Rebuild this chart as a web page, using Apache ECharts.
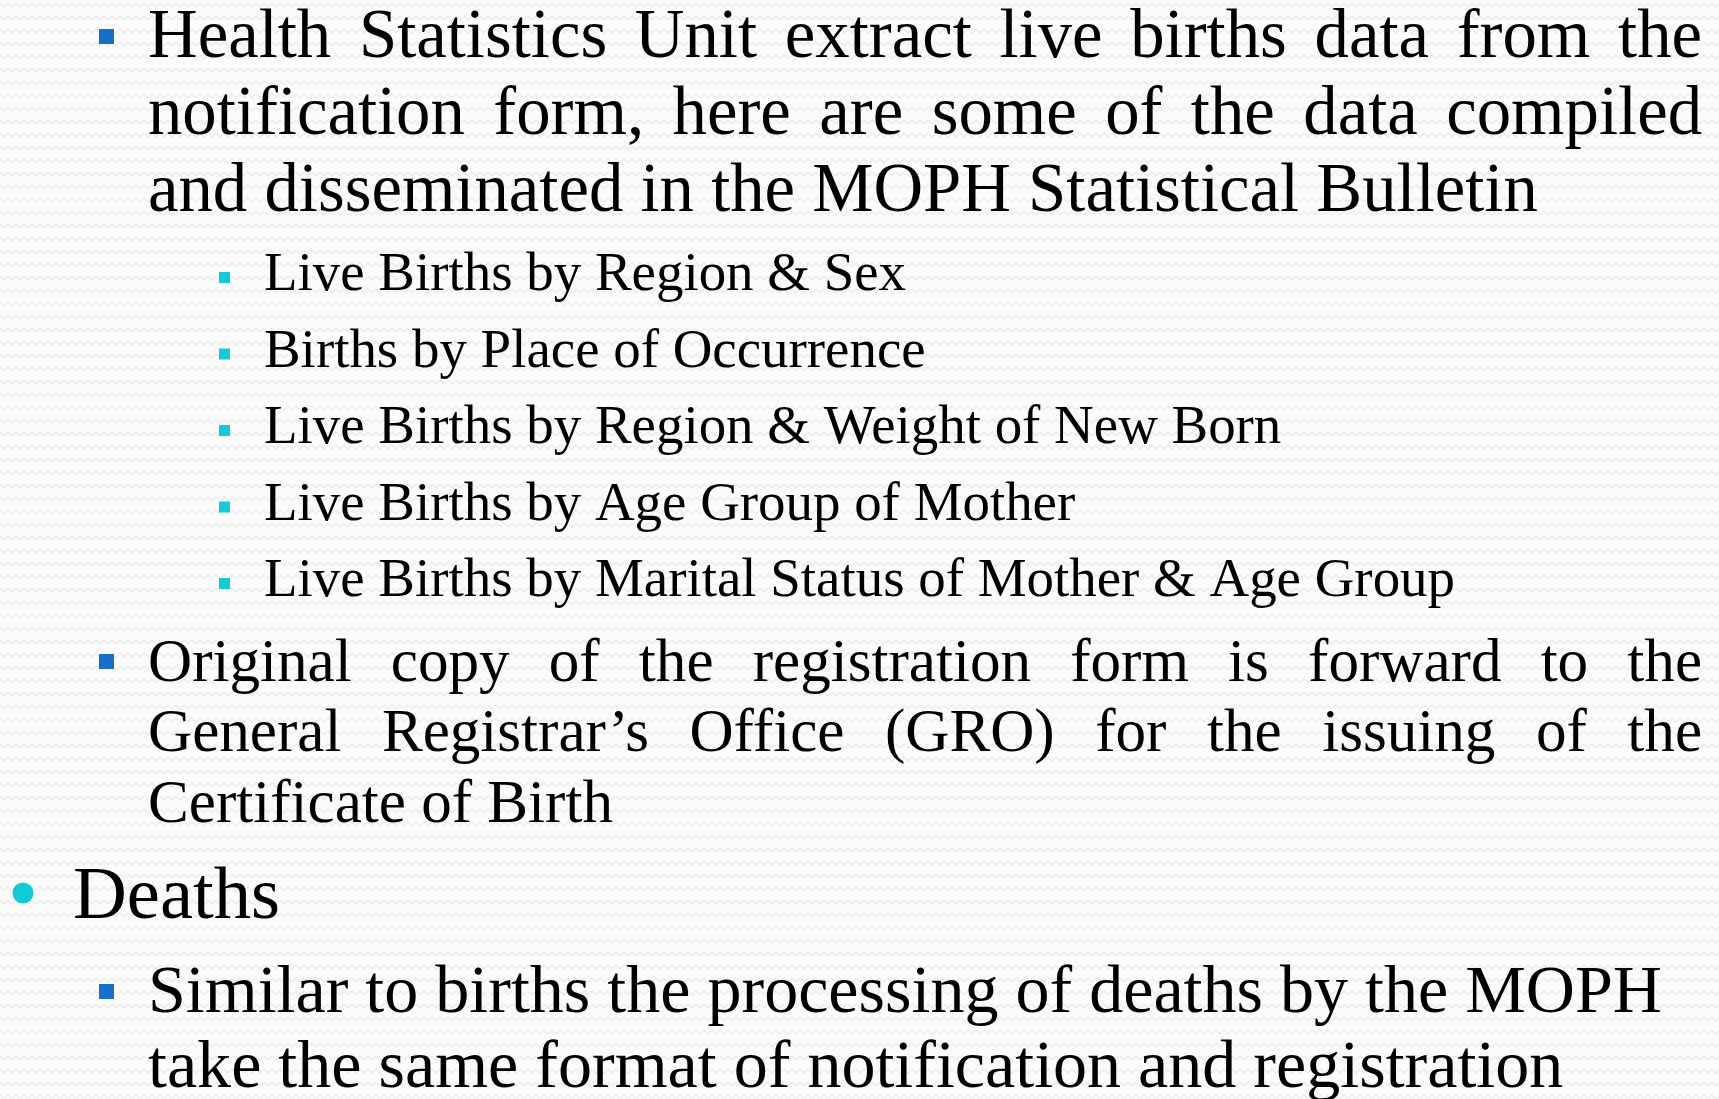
<!DOCTYPE html>
<html><head><meta charset="utf-8">
<script src="https://cdn.jsdelivr.net/npm/echarts@6/dist/echarts.min.js"></script>
<style>html,body{margin:0;padding:0;background:#fff}#c{width:1719px;height:1099px}</style>
</head><body><div id="c"></div>
<script>
// ---- content (text of the slide) ----
const para1Lines = [
  "Health Statistics Unit extract live births data from the",
  "notification form, here are some of the data compiled",
  "and disseminated in the MOPH Statistical Bulletin"
];
const subItems = [
  "Live Births by Region & Sex",
  "Births by Place of Occurrence",
  "Live Births by Region & Weight of New Born",
  "Live Births by Age Group of Mother",
  "Live Births by Marital Status of Mother & Age Group"
];
const para2Lines = [
  "Original copy of the registration form is forward to the",
  "General Registrar\u2019s Office (GRO) for the issuing of the",
  "Certificate of Birth"
];
const headingLines = ["Deaths"];
const para3Lines = [
  "Similar to births the processing of deaths by the MOPH",
  "take the same format of notification and registration"
];

// ---- layout ----
const FAMILY = '"Liberation Serif", "DejaVu Serif", serif';
const BLUE = '#166fc8', CYAN = '#14cad8';
const RIGHT = 1702;
const cv = document.createElement('canvas').getContext('2d');
function fontOf(sz){ return sz.toFixed(2) + 'px ' + FAMILY; }
function measure(t, sz){ cv.font = fontOf(sz); cv.textBaseline = 'alphabetic'; return cv.measureText(t).width; }
function fitSize(t, w){ return w / measure(t, 100) * 100; }
function midOffset(sz){ cv.font = fontOf(sz); cv.textBaseline = 'middle'; const m = cv.measureText('H'); cv.textBaseline='alphabetic'; return m.actualBoundingBoxDescent; }

const blocks = [
  {lines: para1Lines, x:148, baselines:[57,134,211], fit:[2,1390], justify:[true,true,false],
   bullet:{shape:'square', color:BLUE, x:99, dy:-28, size:15}, bulletEach:false},
  {lines: subItems, x:264, baselines:[290,366.5,443,519.5,596], fit:[4,1191], justify:[false,false,false,false,false],
   bullet:{shape:'square', color:CYAN, x:219, dy:-18, size:11}, bulletEach:true},
  {lines: para2Lines, x:148, baselines:[681,751,822], fit:[2,465], justify:[true,true,false],
   bullet:{shape:'square', color:BLUE, x:99, dy:-27, size:15}, bulletEach:false},
  {lines: headingLines, x:73, baselines:[918], fit:[0,207], justify:[false],
   bullet:{shape:'circle', color:CYAN, x:23, dy:-25, size:21}, bulletEach:false},
  {lines: para3Lines, x:148, baselines:[1012,1087], fit:[0,1514], justify:[false,false],
   bullet:{shape:'square', color:BLUE, x:99, dy:-28, size:15}, bulletEach:false}
];

const elements = [];
blocks.forEach(b => {
  const sz = fitSize(b.lines[b.fit[0]], b.fit[1]);
  const off = midOffset(sz);
  b.lines.forEach((line, i) => {
    const yMid = b.baselines[i] - off;
    if (b.justify[i]) {
      const words = line.split(' ');
      const ws = words.map(w => measure(w, sz));
      const total = ws.reduce((a, c) => a + c, 0);
      const gap = (RIGHT - b.x - total) / (words.length - 1);
      let x = b.x;
      words.forEach((w, k) => {
        elements.push({type:'text', silent:true, style:{text:w, x:x, y:yMid, font:fontOf(sz), fill:'#000', verticalAlign:'middle', align:'left'}});
        x += ws[k] + gap;
      });
    } else {
      elements.push({type:'text', silent:true, style:{text:line, x:b.x, y:yMid, font:fontOf(sz), fill:'#000', verticalAlign:'middle', align:'left'}});
    }
    if (i === 0 || b.bulletEach) {
      const bl = b.bullet, top = b.baselines[i] + bl.dy;
      if (bl.shape === 'square') {
        elements.push({type:'rect', silent:true, shape:{x:bl.x, y:top, width:bl.size, height:bl.size}, style:{fill:bl.color}});
      } else {
        elements.push({type:'circle', silent:true, shape:{cx:bl.x + 0, cy:top, r:bl.size/2}, style:{fill:bl.color}});
      }
    }
  });
});

// subtle zigzag background texture
const pc = document.createElement('canvas');
pc.width = 8; pc.height = 13;
const p = pc.getContext('2d');
p.fillStyle = '#fbfbfb'; p.fillRect(0,0,8,13);
p.strokeStyle = '#e9e9e9'; p.lineWidth = 1.2;
p.beginPath(); p.moveTo(0,3); p.lineTo(4,7); p.lineTo(8,3); p.stroke();

const chart = echarts.init(document.getElementById('c'), null, {renderer:'canvas'});
chart.setOption({
  backgroundColor: {image: pc, repeat: 'repeat'},
  animation: false,
  graphic: {elements: elements}
});
</script></body></html>
